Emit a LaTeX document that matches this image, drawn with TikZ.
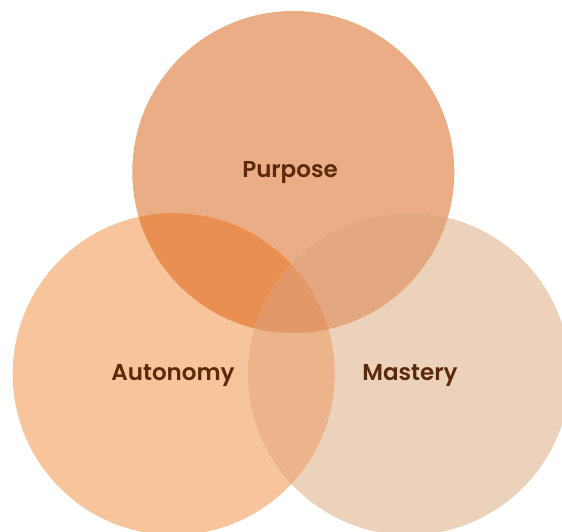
\documentclass[tikz,border=0pt]{standalone}
\usepackage{fontspec}
\newfontfamily\lab{Poppins}[BoldFont={Poppins SemiBold}]
\definecolor{cTop}{RGB}{235,173,133}
\definecolor{cLeft}{RGB}{248,196,155}
\definecolor{cRight}{RGB}{236,209,187}
\definecolor{cTL}{RGB}{233,143,82}
\definecolor{cTR}{RGB}{227,168,128}
\definecolor{cLR}{RGB}{235,180,138}
\definecolor{cAll}{RGB}{226,152,104}
\definecolor{txt}{RGB}{92,42,10}
\begin{document}
\begin{tikzpicture}[x=1pt,y=-1pt,
  lbl/.style={font=\lab\bfseries\fontsize{23}{26}\selectfont, text=txt, anchor=base, inner sep=0pt}]
\useasboundingbox (0,0) rectangle (562,531);
\clip (0,0) rectangle (562,531);
\def\R{161}
\coordinate (T) at (293.3,172);
\coordinate (L) at (173.7,374);
\coordinate (M) at (409,374);
% single circles
\fill[cTop] (T) circle[radius=\R];
\fill[cLeft] (L) circle[radius=\R];
\fill[cRight] (M) circle[radius=\R];
% pairwise
\begin{scope}
  \clip (T) circle[radius=\R];
  \fill[cTL] (L) circle[radius=\R];
  \fill[cTR] (M) circle[radius=\R];
\end{scope}
\begin{scope}
  \clip (L) circle[radius=\R];
  \fill[cLR] (M) circle[radius=\R];
  \clip (M) circle[radius=\R];
  \fill[cAll] (T) circle[radius=\R];
\end{scope}
\node[lbl] (purpose) at (290,177) {Purpose};
\node[lbl] (autonomy) at (173,380) {Autonomy};
\node[lbl] (mastery) at (410,380) {Mastery};
\end{tikzpicture}
\end{document}
